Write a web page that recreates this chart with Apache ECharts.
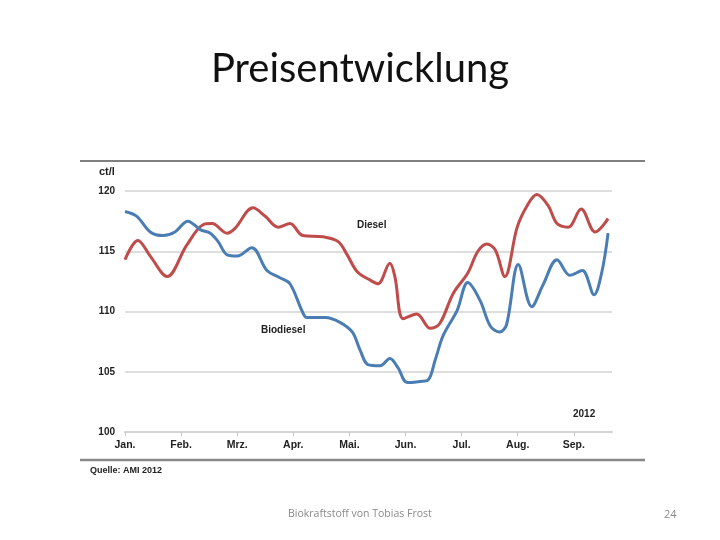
<!DOCTYPE html>
<html>
<head>
<meta charset="utf-8">
<script src="https://cdn.jsdelivr.net/npm/echarts@6/dist/echarts.min.js"></script>
<style>html,body{margin:0;padding:0;background:#fff;}#c{width:720px;height:540px;}</style>
</head>
<body>
<div id="c"></div>
<script>
// Month tick labels (x axis: months since start of January)
const monthLabels = ['Jan.', 'Feb.', 'Mrz.', 'Apr.', 'Mai.', 'Jun.', 'Jul.', 'Aug.', 'Sep.'];
const yTicks = [100, 105, 110, 115, 120];

// Diesel (ct/l): positions in months, values
const dieselX = [0.00,0.23,0.45,0.75,1.10,1.39,1.55,1.82,1.96,2.28,2.50,2.73,2.94,3.17,3.53,3.80,3.96,4.14,4.37,4.51,4.72,4.81,4.96,5.20,5.44,5.61,5.85,6.11,6.29,6.45,6.60,6.77,6.99,7.17,7.34,7.54,7.70,7.90,8.13,8.38,8.61];
const dieselY = [114.3,115.9,114.6,112.9,115.5,117.2,117.3,116.5,116.9,118.6,117.9,117.0,117.3,116.3,116.2,115.8,114.7,113.3,112.6,112.3,114.0,112.9,109.4,109.8,108.6,109.0,111.5,113.2,115.0,115.6,115.1,112.9,117.0,118.8,119.7,118.8,117.3,117.0,118.5,116.6,117.7];

// Biodiesel (ct/l)
const bioX = [0.00,0.21,0.45,0.68,0.89,1.12,1.34,1.52,1.66,1.82,2.00,2.26,2.53,2.76,2.94,3.16,3.24,3.57,3.83,4.05,4.19,4.33,4.55,4.72,4.87,5.03,5.26,5.40,5.53,5.67,5.92,6.11,6.33,6.51,6.68,6.80,7.01,7.25,7.45,7.70,7.93,8.15,8.36,8.50,8.61];
const bioY = [118.3,117.9,116.6,116.3,116.6,117.5,116.8,116.5,115.8,114.7,114.6,115.3,113.4,112.8,112.3,110.0,109.5,109.5,109.1,108.3,106.8,105.6,105.5,106.1,105.3,104.1,104.2,104.3,106.0,108.0,110.1,112.4,110.9,108.8,108.3,108.9,113.9,110.4,112.2,114.3,113.0,113.4,111.4,113.3,116.5];

const pair = (xs, ys) => xs.map((x, i) => [x, ys[i]]);
const chartFont = 'Liberation Sans';

const chart = echarts.init(document.getElementById('c'), null, {renderer: 'canvas'});
chart.setOption({
  animation: false,
  backgroundColor: '#ffffff',
  grid: {left: 125, right: 108, top: 191, bottom: 108},
  xAxis: {
    type: 'value', min: 0, max: 8.68, interval: 1,
    axisLine: {show: true, lineStyle: {color: '#d4d4d4', width: 2}},
    axisTick: {show: true, length: 4, lineStyle: {color: '#c8c8c8', width: 1}},
    axisLabel: {
      showMaxLabel: false, margin: 8,
      color: '#222', fontFamily: chartFont, fontWeight: 'bold', fontSize: 10.5,
      formatter: v => (Number.isInteger(v) && monthLabels[v]) ? monthLabels[v] : ''
    },
    splitLine: {show: false}
  },
  yAxis: {
    type: 'value', min: yTicks[0], max: yTicks[yTicks.length - 1], interval: 5,
    axisLine: {show: false}, axisTick: {show: false},
    axisLabel: {margin: 10, color: '#222', fontFamily: chartFont, fontWeight: 'bold', fontSize: 10},
    splitLine: {lineStyle: {color: '#dedede', width: 2}}
  },
  series: [
    {name: 'Diesel', type: 'line', data: pair(dieselX, dieselY), smooth: 0.35, symbol: 'none',
     lineStyle: {color: '#bf4b4b', width: 3}},
    {name: 'Biodiesel', type: 'line', data: pair(bioX, bioY), smooth: 0.35, symbol: 'none',
     lineStyle: {color: '#4a7db3', width: 3}}
  ],
  graphic: [
    {type: 'text', left: 'center', top: 49,
     style: {text: 'Preisentwicklung', font: '40px Lato', fill: '#111',
             shadowColor: 'rgba(0,0,0,0.35)', shadowOffsetX: 2, shadowOffsetY: 2, shadowBlur: 2}},
    {type: 'line', shape: {x1: 80, y1: 161, x2: 645, y2: 161}, style: {stroke: '#555', lineWidth: 1.5}},
    {type: 'line', shape: {x1: 80, y1: 460, x2: 645, y2: 460}, style: {stroke: '#888', lineWidth: 2.5}},
    {type: 'text', x: 99, y: 166, style: {text: 'ct/l', font: 'bold 11px "Liberation Sans"', fill: '#222'}},
    {type: 'text', x: 357, y: 220, style: {text: 'Diesel', font: 'bold 10px "Liberation Sans"', fill: '#222'}},
    {type: 'text', x: 261, y: 325, style: {text: 'Biodiesel', font: 'bold 10px "Liberation Sans"', fill: '#222'}},
    {type: 'text', x: 573, y: 409, style: {text: '2012', font: 'bold 10px "Liberation Sans"', fill: '#222'}},
    {type: 'text', x: 90, y: 466, style: {text: 'Quelle: AMI 2012', font: 'bold 9px "Liberation Sans"', fill: '#222'}},
    {type: 'text', x: 288, y: 509, style: {text: 'Biokraftstoff von Tobias Frost', font: '10.5px "Open Sans"', fill: '#8a8a8a'}},
    {type: 'text', x: 664, y: 509, style: {text: '24', font: '11px "Open Sans"', fill: '#8a8a8a'}}
  ]
});
</script>
</body>
</html>
